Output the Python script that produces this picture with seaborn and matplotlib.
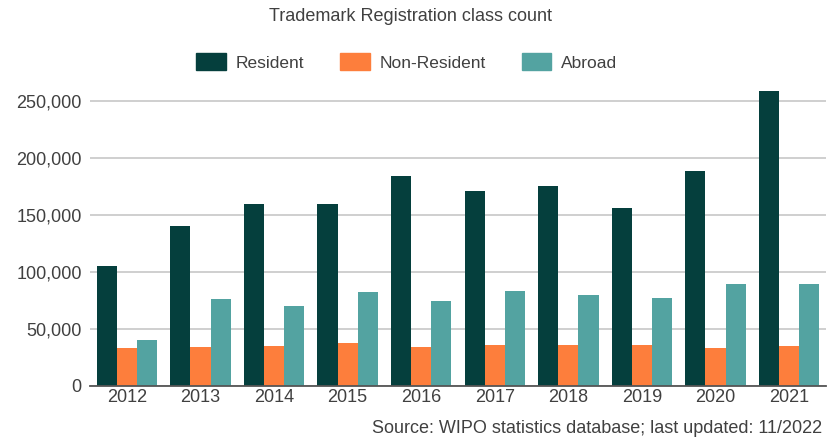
import pandas as pd
import seaborn as sns
import matplotlib.pyplot as plt
from matplotlib.patches import Patch
from matplotlib.ticker import FuncFormatter

years = ['2012', '2013', '2014', '2015', '2016', '2017', '2018', '2019', '2020', '2021']
resident = [104700, 140600, 159400, 159100, 183600, 171000, 174900, 155900, 188600, 258800]
non_resident = [33600, 34200, 34800, 37400, 34500, 36000, 36000, 36000, 33000, 35400]
abroad = [40400, 76600, 70200, 81900, 74300, 83600, 79800, 77200, 89500, 89500]
series = ['Resident', 'Non-Resident', 'Abroad']
colors = ['#053f3d', '#fd7e3c', '#53a3a1']

df = pd.DataFrame({'year': years, 'Resident': resident,
                   'Non-Resident': non_resident, 'Abroad': abroad})
df = df.melt(id_vars='year', var_name='type', value_name='count')

sns.set_style('white')
plt.rcParams['font.family'] = ['Liberation Sans', 'DejaVu Sans']
txt = '#404040'

fig = plt.figure(figsize=(8.35, 4.4), dpi=100)
ax = fig.add_axes([0.108, 0.123, 0.881, 0.674])

sns.barplot(data=df, x='year', y='count', hue='type', hue_order=series,
            palette=colors, width=0.82, gap=0, saturation=1, ax=ax,
            legend=False, linewidth=0, zorder=3)

ax.set_xlim(-0.5, 9.5)
ax.set_ylim(0, 260000)
ax.set_yticks([0, 50000, 100000, 150000, 200000, 250000])
ax.yaxis.set_major_formatter(FuncFormatter(lambda v, p: f'{int(v):,}'))
ax.grid(axis='y', color='#cccccc', linewidth=1.3, zorder=0)
ax.set_xlabel('')
ax.set_ylabel('')
for s in ['top', 'right', 'left']:
    ax.spines[s].set_visible(False)
ax.spines['bottom'].set_color('#555555')
ax.spines['bottom'].set_linewidth(1.3)
ax.spines['bottom'].set_zorder(4)
ax.tick_params(axis='both', length=0, labelsize=13, colors=txt)
ax.tick_params(axis='y', pad=6)
ax.tick_params(axis='x', pad=2)

fig.text(0.492, 0.962, 'Trademark Registration class count', ha='center', va='center',
         fontsize=13, color=txt)

handles = [Patch(facecolor=c, edgecolor=c) for c in colors]
fig.legend(handles, series, loc='center', bbox_to_anchor=(0.487, 0.859), ncol=3,
           frameon=False, fontsize=12.5, handlelength=1.7, handleheight=1.1,
           handletextpad=0.55, columnspacing=2.1, labelcolor=txt)

fig.text(0.985, 0.027, 'Source: WIPO statistics database; last updated: 11/2022',
         ha='right', va='center', fontsize=13, color=txt)

plt.savefig('out.png', dpi=100)
